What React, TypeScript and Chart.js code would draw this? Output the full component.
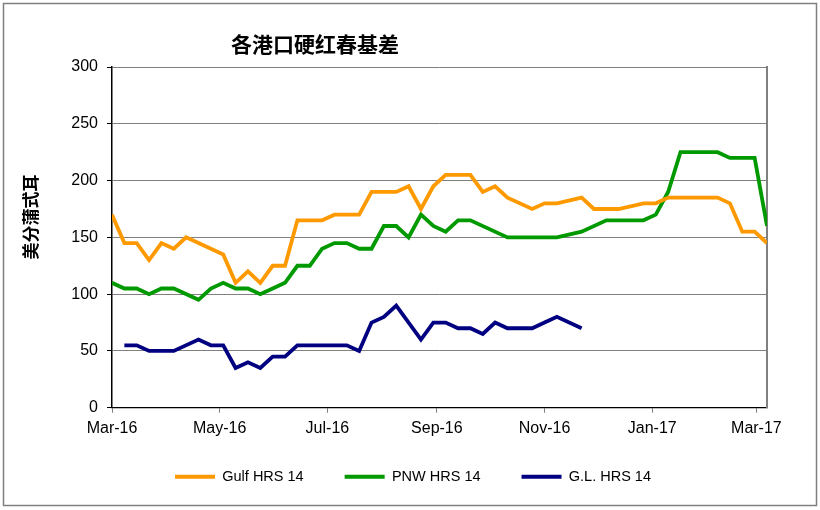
import React, { useEffect, useRef } from 'react';
import { Chart, registerables } from 'chart.js';

Chart.register(...registerables);

const TITLE = '各港口硬红春基差';
const Y_TITLE = '美分蒲式耳';

// x axis: days since 2016-03-01, one data point per week
const DAYS_PER_WEEK = 7;
const LAST_WEEK = 53;
const MONTH_TICK_DAYS = [0, 61, 122, 184, 245, 306, 365];
const MONTH_TICK_LABELS = ['Mar-16', 'May-16', 'Jul-16', 'Sep-16', 'Nov-16', 'Jan-17', 'Mar-17'];

const Y_MIN = 0;
const Y_MAX = 300;
const Y_STEP = 50;

const SERIES_NAMES = ['Gulf HRS 14', 'PNW HRS 14', 'G.L. HRS 14'];
const SERIES_COLORS = ['#FF9900', '#009900', '#000080'];

const GULF_WEEKS = [0, 1, 2, 3, 4, 5, 6, 9, 10, 11, 12, 13, 14, 15, 16, 17, 18, 19, 20, 21, 22, 23, 24, 25, 26, 27, 28, 29, 30, 31, 32, 34, 35, 36, 38, 39, 40, 41, 43, 44, 45, 46, 47, 48, 49, 50, 51, 52, 53];
const GULF_VALUES = [170, 145, 145, 130, 145, 140, 150, 135, 110, 120, 110, 125, 125, 165, 165, 165, 170, 170, 170, 190, 190, 190, 195, 175, 195, 205, 205, 205, 190, 195, 185, 175, 180, 180, 185, 175, 175, 175, 180, 180, 185, 185, 185, 185, 185, 180, 155, 155, 145];

const PNW_WEEKS = [0, 1, 2, 3, 4, 5, 7, 8, 9, 10, 11, 12, 13, 14, 15, 16, 17, 18, 19, 20, 21, 22, 23, 24, 25, 26, 27, 28, 29, 32, 33, 34, 35, 36, 38, 40, 41, 42, 43, 44, 45, 46, 47, 48, 49, 50, 51, 52, 53];
const PNW_VALUES = [110, 105, 105, 100, 105, 105, 95, 105, 110, 105, 105, 100, 105, 110, 125, 125, 140, 145, 145, 140, 140, 160, 160, 150, 170, 160, 155, 165, 165, 150, 150, 150, 150, 150, 155, 165, 165, 165, 165, 170, 190, 225, 225, 225, 225, 220, 220, 220, 160];

const GL_WEEKS = [1, 2, 3, 4, 5, 7, 8, 9, 10, 11, 12, 13, 14, 15, 16, 17, 18, 19, 20, 21, 22, 23, 25, 26, 27, 28, 29, 30, 31, 32, 33, 34, 35, 36, 38];
const GL_VALUES = [55, 55, 50, 50, 50, 60, 55, 55, 35, 40, 35, 45, 45, 55, 55, 55, 55, 55, 50, 75, 80, 90, 60, 75, 75, 70, 70, 65, 75, 70, 70, 70, 75, 80, 70];

const toPoints = (weeks: number[], values: number[]) =>
  weeks.map((w, i) => ({ x: w * DAYS_PER_WEEK, y: values[i] }));

const LATIN = "'Liberation Sans', Arial, sans-serif";
const CJK = "'Noto Sans CJK SC', sans-serif";

const decorPlugin = {
  id: 'decor',
  beforeDraw(chart: any) {
    const ctx = chart.ctx;
    ctx.save();
    ctx.fillStyle = '#ffffff';
    ctx.fillRect(0, 0, chart.width, chart.height);
    ctx.restore();
  },
  afterDraw(chart: any) {
    const ctx = chart.ctx;
    ctx.save();
    ctx.strokeStyle = '#808080';
    ctx.lineWidth = 1.5;
    ctx.strokeRect(3.5, 3.5, 813, 502);
    ctx.fillStyle = '#000000';
    ctx.textAlign = 'center';
    ctx.textBaseline = 'middle';
    ctx.font = `bold 21px ${CJK}`;
    ctx.fillText(TITLE, 315, 44);
    ctx.translate(31, 217);
    ctx.rotate(-Math.PI / 2);
    ctx.font = `bold 17px ${CJK}`;
    ctx.fillText(Y_TITLE, 0, 0);
    ctx.restore();
  },
};

export default function App() {
  const ref = useRef<HTMLCanvasElement | null>(null);

  useEffect(() => {
    document.body.style.margin = '0';
    if (!ref.current) return;
    const datasets = [
      toPoints(GULF_WEEKS, GULF_VALUES),
      toPoints(PNW_WEEKS, PNW_VALUES),
      toPoints(GL_WEEKS, GL_VALUES),
    ].map((data, i) => ({
      label: SERIES_NAMES[i],
      data,
      borderColor: SERIES_COLORS[i],
      backgroundColor: SERIES_COLORS[i],
      borderWidth: 3.8,
      pointRadius: 0,
      tension: 0,
      fill: false,
    }));

    const chart = new Chart(ref.current, {
      type: 'line',
      data: { datasets },
      plugins: [decorPlugin],
      options: {
        responsive: false,
        animation: false,
        layout: { padding: { top: 67, left: 59, right: 53, bottom: 16 } },
        plugins: {
          title: { display: false },
          tooltip: { enabled: false },
          legend: {
            display: true,
            position: 'bottom',
            labels: {
              boxWidth: 40,
              boxHeight: 4,
              padding: 41,
              color: '#000000',
              font: { family: LATIN, size: 14.5 },
              generateLabels: (c: any) =>
                Chart.defaults.plugins.legend.labels
                  .generateLabels(c)
                  .map((l: any) => ({ ...l, lineWidth: 0, fillStyle: l.strokeStyle })),
            },
          },
        },
        scales: {
          x: {
            type: 'linear',
            min: 0,
            max: LAST_WEEK * DAYS_PER_WEEK,
            afterBuildTicks: (s: any) => {
              s.ticks = MONTH_TICK_DAYS.map((v) => ({ value: v }));
            },
            afterFit: (s: any) => {
              s.height = 20.75;
              s.paddingLeft = 0;
              s.paddingRight = 0;
              // let the tick labels extend below the (narrow) axis box
              s._computeLabelArea = () => undefined;
            },
            ticks: {
              autoSkip: false,
              maxRotation: 0,
              padding: 6,
              color: '#000000',
              font: { family: LATIN, size: 16 },
              callback: (_v: any, i: number) => MONTH_TICK_LABELS[i],
            },
            grid: {
              display: true,
              drawOnChartArea: false,
              drawTicks: true,
              tickLength: 5,
              tickColor: '#808080',
            },
            border: { display: true, color: '#000000', width: 1.3 },
          },
          y: {
            type: 'linear',
            position: 'left',
            min: Y_MIN,
            max: Y_MAX,
            afterFit: (s: any) => {
              s.width = 53;
              s.paddingTop = 0;
              s.paddingBottom = 0;
            },
            ticks: {
              stepSize: Y_STEP,
              padding: 9,
              color: '#000000',
              font: { family: LATIN, size: 16 },
            },
            grid: {
              color: '#808080',
              lineWidth: 1,
              drawTicks: true,
              tickLength: 5,
              tickColor: '#000000',
            },
            border: { display: true, color: '#000000', width: 1.5 },
          },
          y2: {
            type: 'linear',
            position: 'right',
            display: true,
            afterFit: (s: any) => {
              s.width = 0;
              s.paddingTop = 0;
              s.paddingBottom = 0;
            },
            ticks: { display: false },
            grid: { display: false },
            border: { display: true, color: '#808080', width: 2 },
          },
        },
      },
    });
    return () => chart.destroy();
  }, []);

  return (
    <div style={{ position: 'relative', width: 820, height: 510 }}>
      <canvas ref={ref} width={820} height={510} />
    </div>
  );
}
